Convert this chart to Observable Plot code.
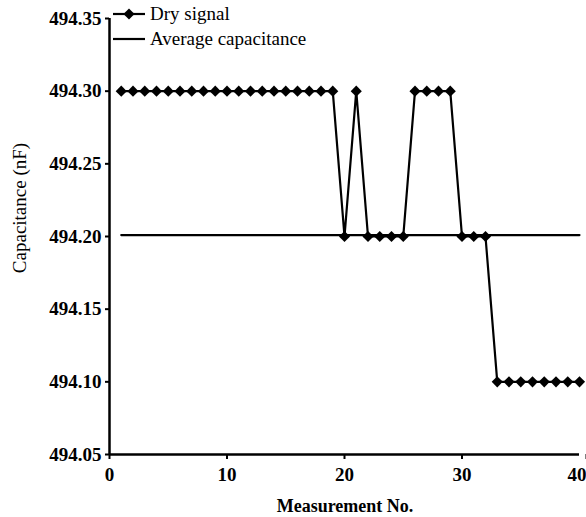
<!DOCTYPE html>
<html>
<head>
<meta charset="utf-8">
<script src="https://cdn.jsdelivr.net/npm/d3@7"></script>
<script src="https://cdn.jsdelivr.net/npm/@observablehq/plot@0.6"></script>
<style>
  html, body { margin: 0; padding: 0; background: #fff; }
  svg { display: block; }
</style>
</head>
<body>
<div id="chart"></div>
<script>
const measurementNo = Array.from({length: 40}, (_, i) => i + 1);
const drySignal = [
  494.30, 494.30, 494.30, 494.30, 494.30, 494.30, 494.30, 494.30, 494.30, 494.30,
  494.30, 494.30, 494.30, 494.30, 494.30, 494.30, 494.30, 494.30, 494.30, 494.20,
  494.30, 494.20, 494.20, 494.20, 494.20, 494.30, 494.30, 494.30, 494.30, 494.20,
  494.20, 494.20, 494.10, 494.10, 494.10, 494.10, 494.10, 494.10, 494.10, 494.10
];
const averageCapacitance = 494.201;
const xTicks = [0, 10, 20, 30];
const xLastTick = [40];
const yTicks = [494.05, 494.10, 494.15, 494.20, 494.25, 494.30, 494.35];

const data = measurementNo.map((n, i) => ({n, v: drySignal[i]}));
const avgLine = [{n: 1, v: averageCapacitance}, {n: 40, v: averageCapacitance}];

const font = "Liberation Serif, Times New Roman, serif";

const plot = Plot.plot({
  width: 586,
  height: 517,
  marginLeft: 109,
  marginRight: 7,
  marginTop: 18,
  marginBottom: 63,
  style: {fontFamily: font, fontSize: "19px", color: "#000", background: "#fff"},
  x: {domain: [0, 40]},
  y: {domain: [494.05, 494.35]},
  marks: [
    Plot.axisX({ticks: xTicks, tickSize: 5, tickPadding: 8, strokeWidth: 2, fontWeight: "bold", fontSize: 19, label: null}),
    Plot.axisX({ticks: xLastTick, tickSize: 5, tickPadding: 8, strokeWidth: 2, fontWeight: "bold", fontSize: 19, label: null, textAnchor: "end", dx: 7}),
    Plot.axisY({ticks: yTicks, tickSize: 4, tickPadding: 4, strokeWidth: 2, fontWeight: "bold", fontSize: 19, tickFormat: d3.format(".2f"), label: null}),
    Plot.ruleX([0], {stroke: "#000", strokeWidth: 2.5}),
    Plot.ruleY([494.05], {stroke: "#000", strokeWidth: 2.5}),
    Plot.line(avgLine, {x: "n", y: "v", stroke: "#000", strokeWidth: 2.2}),
    Plot.line(data, {x: "n", y: "v", stroke: "#000", strokeWidth: 2.2}),
    Plot.dot(data, {x: "n", y: "v", symbol: "diamond2", r: 5, fill: "#000", stroke: "none"})
  ]
});

const svg = d3.select(plot);
// axis titles
svg.append("text")
  .attr("x", 345).attr("y", 512)
  .attr("text-anchor", "middle")
  .attr("font-family", font).attr("font-size", 18).attr("font-weight", "bold")
  .text("Measurement No.");
svg.append("text")
  .attr("transform", "translate(26,208) rotate(-90)")
  .attr("text-anchor", "middle")
  .attr("font-family", font).attr("font-size", 19)
  .text("Capacitance (nF)");
// legend
const lg = svg.append("g").attr("text-anchor", "start");
lg.append("line").attr("x1", 113).attr("x2", 145).attr("y1", 14).attr("y2", 14)
  .attr("stroke", "#000").attr("stroke-width", 2.2);
lg.append("path").attr("d", d3.symbol(d3.symbolDiamond2, 5 * 5 * Math.PI)())
  .attr("transform", "translate(129,14)").attr("fill", "#000");
lg.append("text").attr("x", 150).attr("y", 20).attr("text-anchor", "start")
  .attr("font-family", font).attr("font-size", 19).text("Dry signal");
lg.append("line").attr("x1", 113).attr("x2", 145).attr("y1", 39).attr("y2", 39)
  .attr("stroke", "#000").attr("stroke-width", 2.2);
lg.append("text").attr("x", 150).attr("y", 45).attr("text-anchor", "start")
  .attr("font-family", font).attr("font-size", 19).text("Average capacitance");

document.getElementById("chart").appendChild(plot);
</script>
</body>
</html>
